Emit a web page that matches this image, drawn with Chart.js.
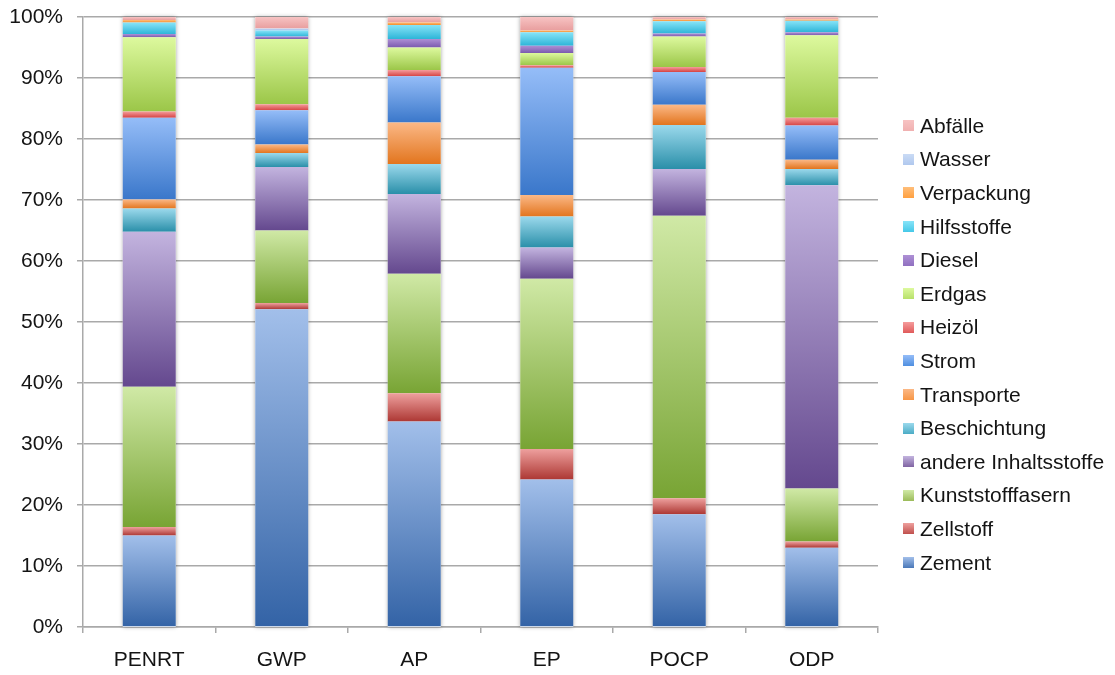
<!DOCTYPE html>
<html lang="de">
<head>
<meta charset="utf-8">
<title>Wirkungskategorien – Anteile der Einflussgrößen</title>
<script src="https://cdn.jsdelivr.net/npm/chart.js@4/dist/chart.umd.min.js"></script>
<style>
  html, body { margin: 0; padding: 0; background: #ffffff; }
  #wrap { position: relative; width: 1115px; height: 675px; }
  #legend {
    position: absolute; left: 903px; top: 109px;
    font-family: "Liberation Sans", Arial, Helvetica, sans-serif;
    font-size: 21px; color: #141414;
  }
  #legend .item { display: flex; align-items: center; height: 33.6px; white-space: nowrap; }
  #legend .sw { width: 11px; height: 11px; margin-right: 6px; flex: none; }
</style>
</head>
<body>
<div id="wrap">
  <canvas id="chart" width="1115" height="675"></canvas>
  <div id="legend"></div>
</div>
<script>
// Wirkungskategorien
const categories = ['PENRT', 'GWP', 'AP', 'EP', 'POCP', 'ODP'];

// Anteile in Prozent je Kategorie (von unten nach oben gestapelt)
const zement            = [15.0, 52.1, 33.7, 24.2, 18.5, 13.0];
const zellstoff         = [ 1.4,  1.0,  4.6,  5.0,  2.6,  1.0];
const kunststofffasern  = [23.0, 11.9, 19.6, 27.9, 46.3,  8.7];
const andereInhalt      = [25.4, 10.4, 13.1,  5.1,  7.7, 49.7];
const beschichtung      = [ 3.8,  2.3,  4.9,  5.1,  7.2,  2.7];
const transporte        = [ 1.5,  1.4,  6.8,  3.5,  3.3,  1.5];
const strom             = [13.4,  5.6,  7.6, 20.9,  5.4,  5.6];
const heizoel           = [ 1.0,  1.0,  1.0,  0.4,  0.8,  1.3];
const erdgas            = [12.2, 10.7,  3.7,  2.0,  5.0, 13.5];
const diesel            = [ 0.5,  0.4,  1.4,  1.2,  0.5,  0.5];
const hilfsstoffe       = [ 1.9,  1.0,  2.3,  2.2,  2.0,  1.9];
const verpackung        = [ 0.4,  0.0,  0.4,  0.3,  0.3,  0.2];
const wasser            = [ 0.0,  0.3,  0.0,  0.0,  0.0,  0.0];
const abfaelle          = [ 0.5,  1.9,  0.9,  2.2,  0.4,  0.4];

const seriesNames = ['Zement', 'Zellstoff', 'Kunststofffasern', 'andere Inhaltsstoffe',
  'Beschichtung', 'Transporte', 'Strom', 'Heizöl', 'Erdgas', 'Diesel',
  'Hilfsstoffe', 'Verpackung', 'Wasser', 'Abfälle'];
const seriesValues = [zement, zellstoff, kunststofffasern, andereInhalt, beschichtung,
  transporte, strom, heizoel, erdgas, diesel, hilfsstoffe, verpackung, wasser, abfaelle];

// Verlaufsfarben je Serie: oben hell, unten dunkel, dazu die Legendenfarbe
const colorTop    = ['#a2bfea', '#eea09e', '#d0e9a6', '#c3b4df', '#9bd9ec', '#fbb886', '#95bdf8',
  '#f59c9c', '#ddf99e', '#ae90d5', '#88e4f8', '#ffbe7a', '#cadbf5', '#f7c3c3'];
const colorBottom = ['#3363a6', '#ad3834', '#78a434', '#64488e', '#2a8fa9', '#e2751e', '#3a77ca',
  '#d64444', '#9bc648', '#7b5aae', '#2db5d8', '#f58e2e', '#9bb9e8', '#e89e9e'];
const colorSwatch = ['#4a78b8', '#c0504d', '#9bbb59', '#8064a2', '#4bacc6', '#f79646', '#4f8fe0',
  '#e05a5a', '#b7e06a', '#9070c0', '#45c8e8', '#ffa040', '#b0c8ee', '#f0b0b0'];

const FONT = '"Liberation Sans", Arial, Helvetica, sans-serif';
const GRID = '#a9a9a9';

// Verlauf über die Höhe des jeweiligen Segments
function segmentFill(ctx, seriesIdx) {
  const chart = ctx.chart;
  const y = chart.scales && chart.scales.y;
  if (!chart.chartArea || !y || ctx.type !== 'data') return colorBottom[seriesIdx];
  const i = ctx.dataIndex;
  let start = 0;
  for (let s = 0; s < seriesIdx; s++) start += seriesValues[s][i];
  const end = start + seriesValues[seriesIdx][i];
  const top = y.getPixelForValue(end);
  const bot = y.getPixelForValue(start);
  if (!isFinite(top) || !isFinite(bot) || Math.abs(bot - top) < 0.5) return colorBottom[seriesIdx];
  const g = chart.ctx.createLinearGradient(0, top, 0, bot);
  g.addColorStop(0, colorTop[seriesIdx]);
  g.addColorStop(1, colorBottom[seriesIdx]);
  return g;
}

const datasets = seriesNames.map((name, k) => ({
  label: name,
  data: seriesValues[k],
  backgroundColor: (c) => segmentFill(c, k),
  borderWidth: 0,
  categoryPercentage: 1.0,
  barPercentage: 0.4
}));

// leichter Schatten hinter jeder Säule
const barShadow = {
  id: 'barShadow',
  beforeDatasetsDraw(chart) {
    const meta = chart.getDatasetMeta(0);
    const y = chart.scales.y;
    const ctx = chart.ctx;
    ctx.save();
    ctx.shadowColor = 'rgba(0,0,0,0.35)';
    ctx.shadowBlur = 4;
    ctx.fillStyle = '#ffffff';
    meta.data.forEach((el) => {
      const top = y.getPixelForValue(100);
      const bot = y.getPixelForValue(0);
      ctx.fillRect(el.x - el.width / 2, top, el.width, bot - top);
    });
    ctx.restore();
  }
};

new Chart(document.getElementById('chart'), {
  type: 'bar',
  data: { labels: categories, datasets },
  plugins: [barShadow],
  options: {
    responsive: false,
    animation: false,
    layout: { padding: { top: 17, right: 237, bottom: 0, left: 0 } },
    plugins: { legend: { display: false }, tooltip: { enabled: false } },
    scales: {
      x: {
        stacked: true,
        grid: { offset: true, drawOnChartArea: false, drawTicks: true, tickLength: 6, color: GRID, lineWidth: 1.5 },
        border: { color: GRID, width: 1.5 },
        ticks: { color: '#141414', padding: 15, font: { family: FONT, size: 21 } },
        afterFit(scale) { scale.height = 48; }
      },
      y: {
        stacked: true,
        min: 0, max: 100,
        grid: { color: GRID, lineWidth: 1.5, tickLength: 6 },
        border: { color: GRID, width: 1.5 },
        ticks: {
          stepSize: 10, color: '#141414', padding: 14,
          font: { family: FONT, size: 21 },
          callback: (v) => v + '%'
        },
        afterFit(scale) {
          scale.width = 83;
          scale.paddingTop = 0;
          scale.paddingBottom = 0;
        }
      }
    }
  }
});

// Legende: oberste Serie zuerst
const legendEl = document.getElementById('legend');
for (let k = seriesNames.length - 1; k >= 0; k--) {
  const item = document.createElement('div');
  item.className = 'item';
  const sw = document.createElement('span');
  sw.className = 'sw';
  sw.style.background = 'linear-gradient(' + colorTop[k] + ',' + colorSwatch[k] + ')';
  const txt = document.createElement('span');
  txt.textContent = seriesNames[k];
  item.appendChild(sw);
  item.appendChild(txt);
  legendEl.appendChild(item);
}
</script>
</body>
</html>
